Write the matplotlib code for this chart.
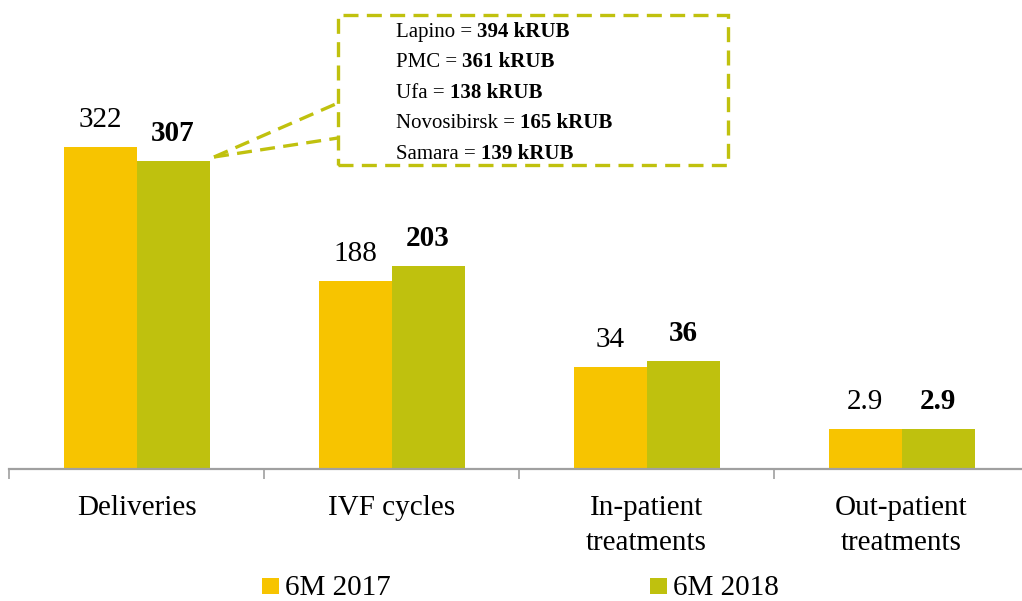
import matplotlib.pyplot as plt
from matplotlib.patches import Rectangle
from matplotlib.lines import Line2D

plt.rcParams["font.family"] = ["Liberation Serif", "DejaVu Serif"]

categories = ["Deliveries", "IVF cycles", "In-patient\ntreatments", "Out-patient\ntreatments"]
labels_2017 = ["322", "188", "34", "2.9"]
labels_2018 = ["307", "203", "36", "2.9"]
# bar heights as drawn in the source (the scale is broken for the small categories)
heights_2017 = [322, 188, 102, 40]
heights_2018 = [308, 203, 108, 40]
series_names = ["6M 2017", "6M 2018"]
clinics = ["Lapino", "PMC", "Ufa", "Novosibirsk", "Samara"]
clinic_values = ["394 kRUB", "361 kRUB", "138 kRUB", "165 kRUB", "139 kRUB"]

C2017 = "#F7C400"
C2018 = "#BFC10E"
W, H = 1022, 601

fig = plt.figure(figsize=(W / 100, H / 100), dpi=100)
ax = fig.add_axes([9 / W, (H - 469) / H, 1013 / W, 469 / H])
ax.set_xlim(-0.5, -0.5 + 1013 / 255)
ax.set_ylim(0, 469)

bw = 73 / 255
x = range(len(categories))
b1 = ax.bar([i - bw / 2 for i in x], heights_2017, bw, color=C2017, linewidth=0)
b2 = ax.bar([i + bw / 2 for i in x], heights_2018, bw, color=C2018, linewidth=0)

for rect, lab in zip(b1, labels_2017):
    ax.annotate(lab, (rect.get_x() + rect.get_width() / 2, rect.get_height()),
                xytext=(0, 14.4), textcoords="offset points",
                ha="center", va="baseline", fontsize=21)
for rect, lab in zip(b2, labels_2018):
    ax.annotate(lab, (rect.get_x() + rect.get_width() / 2, rect.get_height()),
                xytext=(0, 14.4), textcoords="offset points",
                ha="center", va="baseline", fontsize=21, fontweight="bold")

for s in ["top", "right", "left"]:
    ax.spines[s].set_visible(False)
ax.spines["bottom"].set_color("#A0A0A0")
ax.spines["bottom"].set_linewidth(1.6)
ax.set_yticks([])
ax.set_xticks([])
ax.set_xticks([-0.5, 0.5, 1.5, 2.5], minor=True)
ax.tick_params(axis="x", which="minor", length=7, width=1.2, color="#A0A0A0")
for i, cat in enumerate(categories):
    ax.annotate(cat, (i, 0), xytext=(0, -26 * 0.72), textcoords="offset points",
                ha="center", va="top", fontsize=21, linespacing=1.45)

# callout box, figure pixel coordinates
def fx(px):
    return px / W


def fy(py):
    return (H - py) / H


box_col = "#C0C10E"
dash = (4.5, 2.5)
fig.add_artist(Rectangle((fx(338), fy(165)), fx(728) - fx(338), fy(15) - fy(165),
                         transform=fig.transFigure, fill=False, edgecolor=box_col,
                         linewidth=2.4, linestyle=(0, dash)))
for ey in (103, 138):
    fig.add_artist(Line2D([fx(214), fx(338)], [fy(157), fy(ey)], transform=fig.transFigure,
                          color=box_col, linewidth=2.4, linestyle=(0, dash)))

fig.canvas.draw()
renderer = fig.canvas.get_renderer()
for k, (name, val) in enumerate(zip(clinics, clinic_values)):
    by = 37 + k * 30.4
    t = fig.text(fx(396), fy(by), f"{name} = ", fontsize=15, va="baseline", ha="left")
    x1 = t.get_window_extent(renderer).x1
    fig.text(x1 / W, fy(by), val, fontsize=15, va="baseline", ha="left", fontweight="bold")

# legend
for sx, tx, col, name in [(262, 285, C2017, series_names[0]), (650, 673, C2018, series_names[1])]:
    fig.add_artist(Rectangle((fx(sx), fy(594)), 17 / W, 16 / H, transform=fig.transFigure,
                             facecolor=col, edgecolor="none"))
    fig.text(fx(tx), fy(595), name, fontsize=21, va="baseline", ha="left")

fig.savefig("out.png", dpi=100)
